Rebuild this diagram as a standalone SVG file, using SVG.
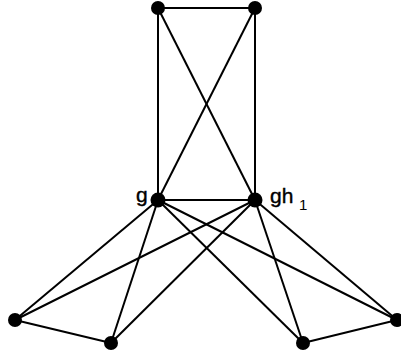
<svg xmlns="http://www.w3.org/2000/svg" width="401" height="356" viewBox="0 0 401 356">
<style>
.e{stroke:#000;stroke-width:2;fill:none}
.n{fill:#000}
.t{font-family:"Liberation Sans",Arial,sans-serif;font-size:21px;fill:#000;stroke:#000;stroke-width:0.4}
.s{font-family:"Liberation Sans",Arial,sans-serif;font-size:15px;fill:#000}
</style>
<rect width="401" height="356" fill="#fff"/>
<g id="connectors">
<line class="e" x1="158" y1="8" x2="255" y2="8"/>
<line class="e" x1="158" y1="8" x2="158" y2="200"/>
<line class="e" x1="255" y1="8" x2="255" y2="200"/>
<line class="e" x1="158" y1="8" x2="255" y2="200"/>
<line class="e" x1="255" y1="8" x2="158" y2="200"/>
<line class="e" x1="158" y1="200" x2="255" y2="200"/>
<line class="e" x1="158" y1="200" x2="15" y2="320"/>
<line class="e" x1="158" y1="200" x2="111" y2="343"/>
<line class="e" x1="158" y1="200" x2="303" y2="343"/>
<line class="e" x1="158" y1="200" x2="397" y2="320"/>
<line class="e" x1="255" y1="200" x2="15" y2="320"/>
<line class="e" x1="255" y1="200" x2="111" y2="343"/>
<line class="e" x1="255" y1="200" x2="303" y2="343"/>
<line class="e" x1="255" y1="200" x2="397" y2="320"/>
<line class="e" x1="15" y1="320" x2="111" y2="343"/>
<line class="e" x1="303" y1="343" x2="397" y2="320"/>
</g>
<g id="n-top-left"><circle class="n" cx="158" cy="8" r="7"/></g>
<g id="n-top-right"><circle class="n" cx="255" cy="8" r="7"/></g>
<g id="n-g"><circle class="n" cx="158" cy="200" r="7.5"/><text class="t" x="136" y="202">g</text></g>
<g id="n-gh1"><circle class="n" cx="255" cy="200" r="7.5"/><text class="t" x="270" y="203">gh</text><text class="s" x="299" y="210">1</text></g>
<g id="n-b1"><circle class="n" cx="15" cy="320" r="7"/></g>
<g id="n-b2"><circle class="n" cx="111" cy="343" r="7"/></g>
<g id="n-b3"><circle class="n" cx="303" cy="343" r="7"/></g>
<g id="n-b4"><circle class="n" cx="397" cy="320" r="7"/></g>
</svg>
